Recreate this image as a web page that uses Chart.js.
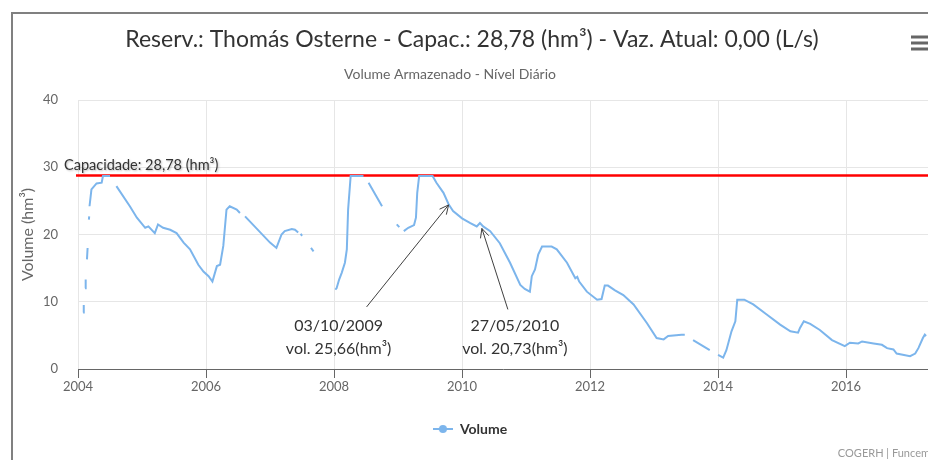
<!DOCTYPE html>
<html>
<head>
<meta charset="utf-8">
<script src="https://cdn.jsdelivr.net/npm/chart.js@4.4.0/dist/chart.umd.min.js"></script>
<style>
  html, body { margin: 0; padding: 0; background: #fff; }
  #grafico_volume { display: block; }
</style>
</head>
<body>
<canvas id="grafico_volume" width="928" height="460"></canvas>
<script>
// volume armazenado diario (hm³) - null = sem medicao
const anos = [
    2004.08, 2004.09, 2004.10, 2004.11, 2004.12, 2004.13, 2004.14, 2004.15, 2004.16, 2004.170,
    2004.175, 2004.177, 2004.18, 2004.21, 2004.29, 2004.37, 2004.39, 2004.50, 2004.55, 2004.60,
    2004.81, 2004.92, 2005.05, 2005.10, 2005.20, 2005.25, 2005.33, 2005.44, 2005.54, 2005.65,
    2005.75, 2005.88, 2005.96, 2006.04, 2006.10, 2006.17, 2006.22, 2006.27, 2006.32, 2006.37,
    2006.48, 2006.53, 2006.57, 2006.61, 2007.00, 2007.10, 2007.18, 2007.23, 2007.34, 2007.39,
    2007.44, 2007.46, 2007.48, 2007.50, 2007.57, 2007.64, 2007.68, 2007.85, 2008.02, 2008.04,
    2008.08, 2008.12, 2008.17, 2008.20, 2008.22, 2008.26, 2008.46, 2008.50, 2008.54, 2008.75,
    2008.86, 2008.98, 2009.02, 2009.05, 2009.09, 2009.16, 2009.25, 2009.28, 2009.30, 2009.33,
    2009.54, 2009.60, 2009.71, 2009.79, 2009.86, 2010.00, 2010.13, 2010.23, 2010.28, 2010.33,
    2010.44, 2010.59, 2010.75, 2010.91, 2010.98, 2011.06, 2011.09, 2011.14, 2011.19, 2011.25,
    2011.40, 2011.48, 2011.64, 2011.77, 2011.80, 2011.83, 2011.95, 2012.11, 2012.18, 2012.23,
    2012.28, 2012.39, 2012.52, 2012.68, 2012.89, 2013.04, 2013.15, 2013.22, 2013.43, 2013.48,
    2013.55, 2013.61, 2013.87, 2013.94, 2014.00, 2014.08, 2014.13, 2014.21, 2014.27, 2014.30,
    2014.41, 2014.55, 2014.76, 2014.97, 2015.13, 2015.25, 2015.28, 2015.34, 2015.44, 2015.59,
    2015.78, 2015.98, 2016.06, 2016.19, 2016.25, 2016.43, 2016.56, 2016.64, 2016.74, 2016.79,
    2017.00, 2017.08, 2017.13, 2017.20, 2017.23, 2017.25
];
const volumes = [
    8.4, 9.5, null, 12.0, 13.3, null, 16.3, 18.0, null, 22.2,
    22.7, null, 24.2, 26.7, 27.6, 27.7, 28.7, 28.7, null, 27.2,
    24.2, 22.5, 21.0, 21.2, 20.2, 21.5, 21.0, 20.7, 20.2, 18.8,
    17.8, 15.5, 14.5, 13.8, 13.0, 15.3, 15.5, 18.3, 23.7, 24.2,
    23.7, 23.2, null, 22.7, 18.8, 18.0, 20.0, 20.5, 20.8, 20.7,
    20.3, null, 20.1, 19.8, null, 18.0, 17.5, null, 11.8, 12.0,
    13.3, 14.3, 15.8, 17.8, 23.7, 28.7, 28.7, null, 27.7, 24.2,
    null, 21.5, 21.1, null, 20.5, 21.0, 21.4, 22.5, 26.2, 28.7,
    28.7, 27.7, 26.2, 24.5, 23.5, 22.4, 21.7, 21.2, 21.7, 21.2,
    20.5, 18.7, 15.8, 12.5, 11.9, 11.5, 13.8, 14.8, 17.0, 18.2,
    18.2, 17.8, 15.8, 13.5, 13.7, 13.0, 11.5, 10.3, 10.4, 12.4,
    12.4, 11.7, 11.0, 9.6, 6.8, 4.6, 4.4, 4.9, 5.1, 5.1,
    null, 4.3, 2.8, null, 2.1, 1.7, 2.8, 5.6, 7.1, 10.3,
    10.3, 9.6, 8.1, 6.6, 5.6, 5.4, 6.1, 7.1, 6.7, 5.8,
    4.3, 3.4, 3.9, 3.8, 4.1, 3.8, 3.6, 3.1, 2.9, 2.3,
    1.9, 2.3, 3.1, 4.6, 5.1, 4.9
];
const anosTicks = [2004, 2006, 2008, 2010, 2012, 2014, 2016];
const volumeTicks = [0, 10, 20, 30, 40];
const capacidade = 28.78;

// setas com data e volume
const anotacoes = [
    { x: 2009.79, y: 24.4, data: '03/10/2009', vol: 'vol. 25,66(hm³)' },
    { x: 2010.31, y: 20.9, data: '27/05/2010', vol: 'vol. 20,73(hm³)' }
];

const fonte = 'Lato, "Open Sans", sans-serif';

// marcador da legenda (linha + bolinha)
let marcador = document.createElement('canvas');
marcador.width = 20;
marcador.height = 10;
let mctx = marcador.getContext('2d');
mctx.strokeStyle = '#7cb5ec';
mctx.lineWidth = 2;
mctx.beginPath();
mctx.moveTo(0, 5);
mctx.lineTo(20, 5);
mctx.stroke();
mctx.fillStyle = '#7cb5ec';
mctx.beginPath();
mctx.arc(10, 5, 4, 0, Math.PI * 2);
mctx.fill();

function seta(ctx, x1, y1, x2, y2) {
    let ang = Math.atan2(y2 - y1, x2 - x1);
    ctx.beginPath();
    ctx.moveTo(x1, y1);
    ctx.lineTo(x2, y2);
    ctx.moveTo(x2 - 10 * Math.cos(ang - 0.45), y2 - 10 * Math.sin(ang - 0.45));
    ctx.lineTo(x2, y2);
    ctx.lineTo(x2 - 10 * Math.cos(ang + 0.45), y2 - 10 * Math.sin(ang + 0.45));
    ctx.stroke();
}

const extras = {
    id: 'extras',
    beforeDraw(chart) {
        let ctx = chart.ctx;
        ctx.save();
        ctx.fillStyle = '#fff';
        ctx.fillRect(0, 0, chart.width, chart.height);
        // moldura
        ctx.strokeStyle = '#808080';
        ctx.lineWidth = 2;
        ctx.beginPath();
        ctx.moveTo(12, chart.height);
        ctx.lineTo(12, 13);
        ctx.lineTo(chart.width, 13);
        ctx.stroke();
        // titulo e subtitulo
        ctx.fillStyle = '#333';
        ctx.textAlign = 'center';
        ctx.textBaseline = 'middle';
        ctx.font = '23px ' + fonte;
        ctx.fillText('Reserv.: Thomás Osterne - Capac.: 28,78 (hm³) - Vaz. Atual: 0,00 (L/s)', 472, 40);
        ctx.fillStyle = '#666';
        ctx.font = '14px ' + fonte;
        ctx.fillText('Volume Armazenado - Nível Diário', 450, 74);
        // menu
        ctx.fillStyle = '#666';
        [37, 43, 49].forEach(y => ctx.fillRect(911, y - 1.5, 20, 3));
        ctx.restore();
    },
    beforeDatasetsDraw(chart) {
        let ctx = chart.ctx;
        let area = chart.chartArea;
        let y = chart.scales.y.getPixelForValue(capacidade);
        ctx.save();
        ctx.strokeStyle = '#ff0000';
        ctx.lineWidth = 2.5;
        ctx.beginPath();
        ctx.moveTo(area.left - 2, y);
        ctx.lineTo(area.right, y);
        ctx.stroke();
        ctx.fillStyle = '#333';
        ctx.font = '14.5px ' + fonte;
        ctx.textAlign = 'left';
        ctx.textBaseline = 'alphabetic';
        ctx.shadowColor = 'rgba(0,0,0,0.25)';
        ctx.shadowBlur = 2;
        ctx.shadowOffsetX = 1;
        ctx.shadowOffsetY = 1;
        ctx.fillText('Capacidade: 28,78 (hm³)', 64, y - 5);
        ctx.restore();
    },
    afterDatasetsDraw(chart) {
        let ctx = chart.ctx;
        let sx = chart.scales.x, sy = chart.scales.y;
        ctx.save();
        ctx.strokeStyle = '#404040';
        ctx.lineWidth = 1;
        ctx.fillStyle = '#333';
        ctx.font = '16px ' + fonte;
        ctx.textAlign = 'center';
        ctx.textBaseline = 'middle';
        anotacoes.forEach((a, i) => {
            let px = sx.getPixelForValue(a.x);
            let py = sy.getPixelForValue(a.y);
            // primeira seta sai da esquerda, segunda da direita
            let dx = i === 0 ? -82 : 26;
            let tx = i === 0 ? -110 : 33;
            seta(ctx, px + dx, py + (i === 0 ? 102 : 81), px, py);
            ctx.fillText(a.data, px + tx, 326);
            ctx.fillText(a.vol, px + tx, 349);
        });
        ctx.restore();
    },
    afterDraw(chart) {
        let ctx = chart.ctx;
        ctx.save();
        ctx.fillStyle = '#999';
        ctx.font = '11px ' + fonte;
        ctx.textAlign = 'right';
        ctx.textBaseline = 'middle';
        ctx.fillText('COGERH | Funcem', 930, 453);
        ctx.restore();
    }
};

let pontos = anos.map((a, i) => ({ x: a, y: volumes[i] }));

let config = {
    type: 'line',
    data: {
        datasets: [{
            label: 'Volume',
            data: pontos,
            borderColor: '#7cb5ec',
            backgroundColor: '#7cb5ec',
            borderWidth: 2,
            pointRadius: 0,
            pointStyle: marcador,
            spanGaps: false,
            tension: 0
        }]
    },
    options: {
        responsive: false,
        animation: false,
        events: [],
        layout: { padding: { top: 100, left: 12, right: 0, bottom: 14 } },
        scales: {
            x: {
                type: 'linear',
                min: 2004,
                max: 2017.28,
                afterBuildTicks: s => { s.ticks = anosTicks.map(v => ({ value: v })); },
                afterFit: s => { s.height = 43; },
                grid: { color: '#e6e6e6', tickColor: '#666', tickLength: 9 },
                border: { color: '#666', width: 1 },
                ticks: {
                    color: '#666',
                    font: { family: fonte, size: 13 },
                    padding: 1,
                    maxRotation: 0,
                    callback: v => String(v)
                }
            },
            y: {
                min: 0,
                max: 40,
                afterBuildTicks: s => { s.ticks = volumeTicks.map(v => ({ value: v })); },
                afterFit: s => { s.width = 66; },
                grid: { color: '#e6e6e6', drawTicks: false },
                border: { display: false },
                ticks: { color: '#666', font: { family: fonte, size: 13 }, padding: 20 },
                title: {
                    display: true,
                    text: 'Volume (hm³)',
                    color: '#666',
                    font: { family: fonte, size: 16 },
                    padding: { top: 6, bottom: 0 }
                }
            }
        },
        plugins: {
            legend: {
                position: 'bottom',
                labels: {
                    usePointStyle: true,
                    pointStyleWidth: 20,
                    color: '#333',
                    font: { family: fonte, size: 14, weight: 'bold' },
                    padding: 10
                }
            },
            tooltip: { enabled: false }
        }
    },
    plugins: [extras]
};

let grafico_volume = new Chart(document.getElementById('grafico_volume'), config);
</script>
</body>
</html>
